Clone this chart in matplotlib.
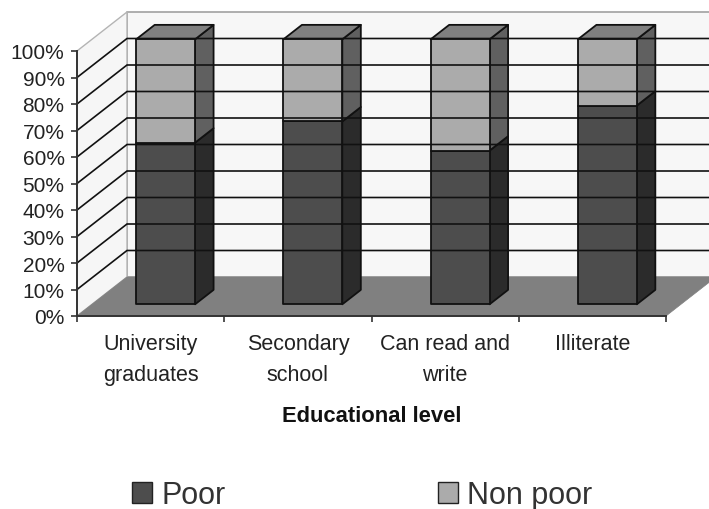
#!/usr/bin/env python3
import matplotlib
matplotlib.use('Agg')
import matplotlib.pyplot as plt
from matplotlib.patches import Patch, Polygon

plt.rcParams['font.family'] = ['Liberation Sans', 'DejaVu Sans']

# ── Data ──
categories = ['University\ngraduates', 'Secondary\nschool', 'Can read and\nwrite', 'Illiterate']
poor = [61, 69, 58, 75]
non_poor = [39, 31, 42, 25]
y_ticks = [0, 10, 20, 30, 40, 50, 60, 70, 80, 90, 100]
y_labels = ['0%', '10%', '20%', '30%', '40%', '50%', '60%', '70%', '80%', '90%', '100%']

# ── 3D look: depth shear in data units ──
DX = 50 / 147.25
DY = 39 / 2.65
BAR_W = 0.40
D0, D1 = 0.30, 0.67   # bar front / back depth
EDGE = '#111111'


def pr(x, y, d):
    return (x + d * DX, y + d * DY)


def face(ax, pts, color, ec=EDGE, lw=1.3):
    ax.add_patch(Polygon([pr(*p) for p in pts], closed=True, facecolor=color,
                         edgecolor=ec, linewidth=lw, clip_on=False, joinstyle='round'))


fig = plt.figure(figsize=(7.09, 5.10), dpi=100)
ax = fig.add_axes([77 / 709, 1 - 317 / 510, 589 / 709, 265 / 510])
ax.set_xlim(0, len(categories))
ax.set_ylim(0, 100)
ax.patch.set_alpha(0)

n = len(categories)
# walls and floor
face(ax, [(0, 0, 1), (n, 0, 1), (n, 100, 1), (0, 100, 1)], '#f7f7f7', ec='#a8a8a8', lw=1.3)
face(ax, [(0, 0, 0), (0, 0, 1), (0, 100, 1), (0, 100, 0)], '#f6f6f6', ec='#b4b4b4', lw=1.0)
face(ax, [(0, 0, 0), (n, 0, 0), (n, 0, 1), (0, 0, 1)], '#808080', ec='#808080', lw=0.5)

# gridlines along side wall and back wall
for v in y_ticks[1:-1]:
    a, b, c = pr(0, v, 0), pr(0, v, 1), pr(n, v, 1)
    ax.plot([a[0], b[0], c[0]], [a[1], b[1], c[1]], color='#111111', lw=1.2,
            clip_on=False, solid_joinstyle='miter')

# stacked bars
for i in range(n):
    x0 = i + 0.5 - BAR_W / 2
    x1 = i + 0.5 + BAR_W / 2
    y_mid = poor[i]
    y_top = poor[i] + non_poor[i]
    face(ax, [(x1, 0, D0), (x1, 0, D1), (x1, y_mid, D1), (x1, y_mid, D0)], '#2b2b2b')
    face(ax, [(x1, y_mid, D0), (x1, y_mid, D1), (x1, y_top, D1), (x1, y_top, D0)], '#606060')
    face(ax, [(x0, y_top, D0), (x1, y_top, D0), (x1, y_top, D1), (x0, y_top, D1)], '#808080')
    face(ax, [(x0, 0, D0), (x1, 0, D0), (x1, y_mid, D0), (x0, y_mid, D0)], '#4d4d4d')
    face(ax, [(x0, y_mid, D0), (x1, y_mid, D0), (x1, y_top, D0), (x0, y_top, D0)], '#ababab')

# axes
for s in ['top', 'right']:
    ax.spines[s].set_visible(False)
for s in ['left', 'bottom']:
    ax.spines[s].set_color('#333333')
    ax.spines[s].set_linewidth(1.4)
ax.set_yticks(y_ticks)
ax.set_yticklabels(y_labels, fontsize=15, color='#222222')
ax.tick_params(axis='y', length=4, width=1.2, color='#333333', pad=5)
ax.set_xticks(range(n + 1))
ax.set_xticklabels([])
ax.set_xticks([i + 0.5 for i in range(n)], minor=True)
ax.set_xticklabels(categories, minor=True, fontsize=15.5, color='#222222', linespacing=1.6)
ax.tick_params(axis='x', which='major', length=4, width=1.2, color='#333333')
ax.tick_params(axis='x', which='minor', length=0, pad=12.5)
ax.set_xlabel('Educational level', fontsize=15.8, fontweight='bold', color='#111111', labelpad=14.5)

handles = [Patch(facecolor='#4d4d4d', edgecolor='#222222', label='Poor'),
           Patch(facecolor='#ababab', edgecolor='#222222', label='Non poor')]
fig.legend(handles=handles, loc='lower left', bbox_to_anchor=(132 / 709, -0.002), ncol=2,
           frameon=False, fontsize=22, handlelength=0.66, handleheight=0.66,
           handletextpad=0.3, columnspacing=6.95, labelcolor='#333333',
           borderpad=0, borderaxespad=0)

fig.savefig('out.png', dpi=100)
